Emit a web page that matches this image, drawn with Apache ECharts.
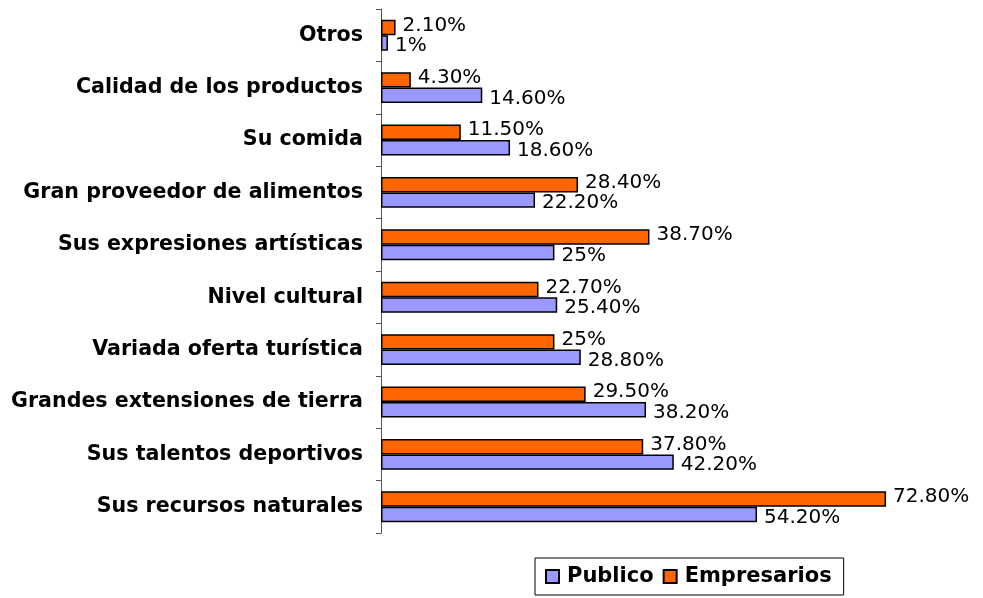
<!DOCTYPE html>
<html>
<head>
<meta charset="utf-8">
<script src="https://cdn.jsdelivr.net/npm/echarts@6/dist/echarts.min.js"></script>
<style>
    html, body {margin: 0; padding: 0; background: #fff;}
    #chart {width: 983px; height: 598px;}
</style>
</head>
<body>
<div id="chart"></div>
<script>
var categories = [
    'Sus recursos naturales', 'Sus talentos deportivos', 'Grandes extensiones de tierra',
    'Variada oferta turística', 'Nivel cultural', 'Sus expresiones artísticas',
    'Gran proveedor de alimentos', 'Su comida', 'Calidad de los productos', 'Otros'
];
var publico = [54.2, 42.2, 38.2, 28.8, 25.4, 25, 22.2, 18.6, 14.6, 1];
var empresarios = [72.8, 37.8, 29.5, 25, 22.7, 38.7, 28.4, 11.5, 4.3, 2.1];

function pct(p) {
    var v = p.value;
    return (Number.isInteger(v) ? v : v.toFixed(2)) + '%';
}

function barLabel(dy) {
    return {
        show: true,
        position: 'right',
        distance: 7,
        offset: [0, dy],
        color: '#000',
        fontFamily: 'DejaVu Sans',
        fontSize: 20,
        formatter: pct
    };
}

var myChart = echarts.init(document.getElementById('chart'));
var option = {
    animation: false,
    textStyle: {fontFamily: 'DejaVu Sans'},
    legend: {
        data: ['Publico', 'Empresarios'],
        left: 535,
        top: 558,
        padding: [8, 12, 8, 10],
        itemWidth: 13,
        itemHeight: 13,
        itemGap: 9,
        borderColor: '#000',
        borderWidth: 1,
        borderRadius: 0,
        icon: 'rect',
        textStyle: {fontSize: 21, fontWeight: 'bold', color: '#000', padding: [0, 0, 0, 3]}
    },
    grid: {left: 381, top: 9, width: 555, height: 524},
    xAxis: {
        type: 'value',
        min: 0,
        max: 80,
        show: false
    },
    yAxis: {
        type: 'category',
        data: categories,
        axisLine: {lineStyle: {color: '#555', width: 1}},
        axisTick: {show: true, length: 5, lineStyle: {color: '#555'}},
        axisLabel: {
            color: '#000',
            fontFamily: 'DejaVu Sans',
            fontSize: 20.6,
            fontWeight: 'bold',
            margin: 18
        }
    },
    series: [
        {
            name: 'Empresarios',
            type: 'bar',
            barGap: 0,
            barCategoryGap: '41%',
            itemStyle: {color: '#FF6600', borderColor: '#000', borderWidth: 1.5},
            label: barLabel(-2),
            data: empresarios
        },
        {
            name: 'Publico',
            type: 'bar',
            itemStyle: {color: '#9999FF', borderColor: '#000', borderWidth: 1.5},
            label: barLabel(3),
            data: publico
        }
    ]
};
myChart.setOption(option);
</script>
</body>
</html>
